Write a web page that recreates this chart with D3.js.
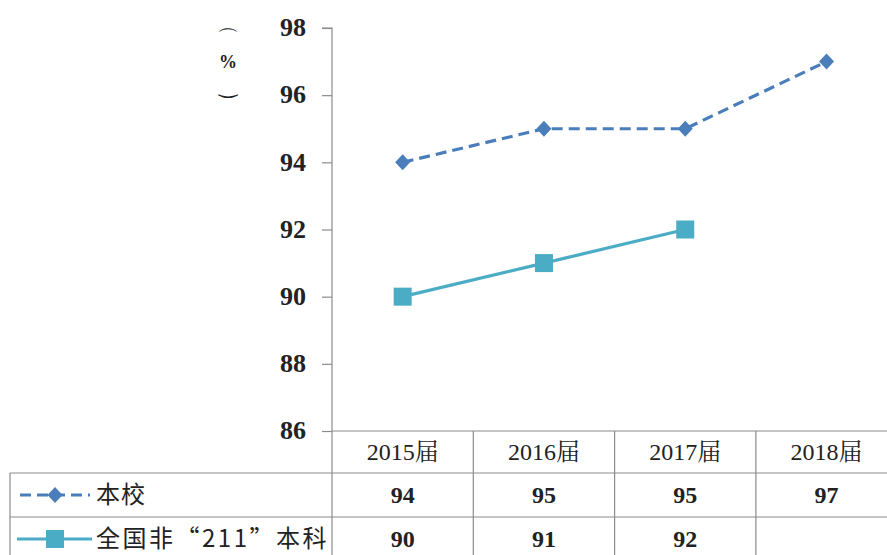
<!DOCTYPE html>
<html><head><meta charset="utf-8">
<script src="https://cdn.jsdelivr.net/npm/d3@7/dist/d3.min.js"></script>
<style>body{margin:0;background:#fff}svg{display:block}</style>
</head><body><svg id="c" width="887" height="555"></svg>
<script>
const categories = ["2015届","2016届","2017届","2018届"];
const seriesNames = ["本校","全国非“211”本科"];
const school = [94,95,95,97];
const national = [90,91,92,null];
const yTicks = [86,88,90,92,94,96,98];
const yLabelParts = ["⌒","%","‿"];

const svg = d3.select("#c");
const left = 332, bandW = 141.3;
const x = d3.scaleBand().domain(categories).range([left, left + bandW*categories.length]).padding(0);
const y = d3.scaleLinear().domain([86,98]).range([431,28]);
const serif = "'Liberation Serif','Noto Serif CJK SC','Noto Sans CJK SC',serif";
const cjk = "'Noto Sans CJK SC',sans-serif";
const gridC = "#8c8c8c";
const c1 = "#4a7ebb", c2 = "#4bacc6";

// y axis
const yAxis = d3.axisLeft(y).tickValues(yTicks).tickSize(10).tickPadding(16).tickFormat(d3.format("d"));
const ga = svg.append("g").attr("transform",`translate(${left},0)`).call(yAxis);
ga.select(".domain").attr("stroke",gridC).attr("stroke-width",1.2).attr("d",`M-10,${y(98)}H0V${y(86)}`);
ga.selectAll(".tick line").attr("stroke",gridC).attr("stroke-width",1.2);
ga.selectAll(".tick text").attr("font-family",serif).attr("font-size",26).attr("font-weight","bold").attr("fill","#222").attr("dy","0.3em");

// y label (stacked vertically)
const yl = svg.append("g").attr("fill","#222").attr("text-anchor","middle");
yl.append("text").attr("x",228).attr("y",46).attr("font-family","'DejaVu Sans',sans-serif").attr("font-size",22).text(yLabelParts[0]);
yl.append("text").attr("x",228).attr("y",68).attr("font-family",serif).attr("font-size",18).attr("font-weight","bold").text(yLabelParts[1]);
yl.append("text").attr("x",228).attr("y",93).attr("font-family","'DejaVu Sans',sans-serif").attr("font-size",22).text(yLabelParts[2]);

// table
const rowTop = [431,473,517,561];
const tb = svg.append("g").attr("stroke",gridC).attr("stroke-width",1.2);
tb.append("line").attr("x1",left).attr("x2",900).attr("y1",rowTop[0]).attr("y2",rowTop[0]);
[1,2,3].forEach(i=>tb.append("line").attr("x1",10).attr("x2",900).attr("y1",rowTop[i]).attr("y2",rowTop[i]));
tb.append("line").attr("x1",10).attr("x2",10).attr("y1",rowTop[1]).attr("y2",rowTop[3]);
tb.append("line").attr("x1",left).attr("x2",left).attr("y1",rowTop[0]).attr("y2",rowTop[3]);
categories.slice(1).forEach(c=>tb.append("line").attr("x1",x(c)).attr("x2",x(c)).attr("y1",rowTop[0]).attr("y2",rowTop[3]));

const tt = svg.append("g").attr("font-family",serif).attr("font-size",24).attr("fill","#222").attr("text-anchor","middle");
categories.forEach(c=>tt.append("text").attr("x",x(c)+x.bandwidth()/2).attr("y",(rowTop[0]+rowTop[1])/2).attr("dy","0.35em").text(c));
[school,national].forEach((arr,r)=>arr.forEach((v,i)=>{ if(v!=null) tt.append("text").attr("x",x(categories[i])+x.bandwidth()/2).attr("y",(rowTop[r+1]+rowTop[r+2])/2).attr("dy","0.35em").attr("font-weight","bold").text(v);}));

// lines
const cx = c => x(c)+x.bandwidth()/2;
const line = d3.line().defined(d=>d.v!=null).x(d=>cx(d.c)).y(d=>y(d.v));
const d1 = categories.map((c,i)=>({c,v:school[i]}));
const d2 = categories.map((c,i)=>({c,v:national[i]}));
svg.append("path").datum(d1).attr("d",line).attr("fill","none").attr("stroke",c1).attr("stroke-width",3.2).attr("stroke-dasharray","11,6");
svg.append("path").datum(d2).attr("d",line).attr("fill","none").attr("stroke",c2).attr("stroke-width",3.2);
svg.append("g").selectAll("path").data(d1.filter(d=>d.v!=null)).join("path")
  .attr("d","M0,-8L7.5,0L0,8L-7.5,0Z").attr("transform",d=>`translate(${cx(d.c)},${y(d.v)})`).attr("fill",c1);
svg.append("g").selectAll("rect").data(d2.filter(d=>d.v!=null)).join("rect")
  .attr("x",d=>cx(d.c)-9).attr("y",d=>y(d.v)-9).attr("width",18).attr("height",18).attr("fill",c2);

// legend inside table
const lg = svg.append("g");
const ly1 = (rowTop[1]+rowTop[2])/2, ly2 = (rowTop[2]+rowTop[3])/2;
lg.append("line").attr("x1",20).attr("x2",90).attr("y1",ly1).attr("y2",ly1).attr("stroke",c1).attr("stroke-width",3.2).attr("stroke-dasharray","11,6");
lg.append("path").attr("d","M0,-8L7.5,0L0,8L-7.5,0Z").attr("transform",`translate(55,${ly1})`).attr("fill",c1);
lg.append("line").attr("x1",17).attr("x2",92).attr("y1",ly2).attr("y2",ly2).attr("stroke",c2).attr("stroke-width",3.2);
lg.append("rect").attr("x",46).attr("y",ly2-9).attr("width",18).attr("height",18).attr("fill",c2);
lg.append("text").attr("x",96).attr("y",ly1).attr("dy","0.35em").attr("font-family",cjk).attr("font-size",24).attr("letter-spacing",1).attr("fill","#222").text(seriesNames[0]);
lg.append("text").attr("x",96).attr("y",ly2).attr("dy","0.35em").attr("font-family",cjk).attr("font-size",24).attr("letter-spacing",2.5).attr("fill","#222").text(seriesNames[1]);
</script></body></html>
